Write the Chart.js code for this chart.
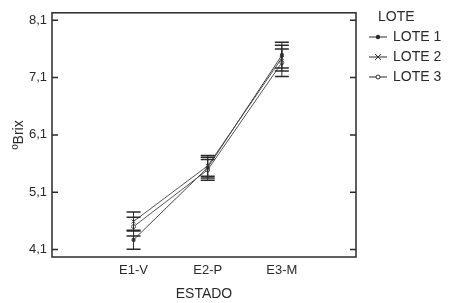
<!DOCTYPE html>
<html>
<head>
<meta charset="utf-8">
<script src="https://cdn.jsdelivr.net/npm/chart.js@4.4.1/dist/chart.umd.min.js"></script>
<style>
html, body { margin: 0; padding: 0; background: #fff; }
#wrap { width: 449px; height: 303px; }
</style>
</head>
<body>
<div id="wrap"><canvas id="grafico"></canvas></div>
<script>
// datos
var estados = ["E1-V", "E2-P", "E3-M"];
var yTicks = [4.1, 5.1, 6.1, 7.1, 8.1];
var lotes = ["LOTE 1", "LOTE 2", "LOTE 3"];
var lote1 = [4.27, 5.53, 7.49];
var lote2 = [4.59, 5.56, 7.44];
var lote3 = [4.50, 5.49, 7.36];
var lote1Err = [0.165, 0.18, 0.225];
var lote2Err = [0.165, 0.18, 0.225];
var lote3Err = [0.165, 0.18, 0.24];

var tinta = "#2a2a2a";
var fuente = "'Liberation Sans', Arial, sans-serif";

function puntos(valores){
    var arr = [];
    for (var i = 0; i < valores.length; i++){
        arr.push({x: i, y: valores[i]});
    }
    return arr;
}

// barras de error, marco y leyenda
var extras = {
    id: "extras",
    afterDatasetsDraw: function(chart){
        var ctx = chart.ctx;
        var xs = chart.scales.x, ys = chart.scales.y;
        var a = chart.chartArea;
        ctx.save();
        ctx.strokeStyle = tinta;
        chart.data.datasets.forEach(function(ds){
            for (var i = 0; i < ds.data.length; i++){
                var px = xs.getPixelForValue(ds.data[i].x);
                var arriba = ys.getPixelForValue(ds.data[i].y + ds.err[i]);
                var abajo = ys.getPixelForValue(ds.data[i].y - ds.err[i]);
                ctx.lineWidth = 1;
                ctx.beginPath();
                ctx.moveTo(px, arriba); ctx.lineTo(px, abajo);
                ctx.stroke();
                ctx.lineWidth = 1.5;
                ctx.beginPath();
                ctx.moveTo(px - 7, arriba); ctx.lineTo(px + 7, arriba);
                ctx.moveTo(px - 7, abajo); ctx.lineTo(px + 7, abajo);
                ctx.stroke();
            }
        });
        // marco
        ctx.lineWidth = 1.5;
        ctx.strokeRect(a.left, a.top, a.right - a.left, a.bottom - a.top);
        ctx.beginPath();
        yTicks.forEach(function(t){
            var py = ys.getPixelForValue(t);
            ctx.moveTo(a.left, py); ctx.lineTo(a.left + 6, py);
            ctx.moveTo(a.right, py); ctx.lineTo(a.right - 6, py);
        });
        ctx.stroke();
        // leyenda
        ctx.fillStyle = tinta;
        ctx.font = "14px " + fuente;
        ctx.textBaseline = "middle";
        ctx.textAlign = "left";
        ctx.fillText("LOTE", 378, 17);
        chart.data.datasets.forEach(function(ds, k){
            var ly = 37 + k * 20;
            ctx.lineWidth = 1;
            ctx.beginPath();
            ctx.moveTo(369, ly); ctx.lineTo(387, ly);
            ctx.stroke();
            dibujaMarca(ctx, ds.pointStyle, 378, ly);
            ctx.fillStyle = tinta;
            ctx.fillText(ds.label, 393, ly);
        });
        ctx.restore();
    }
};

function dibujaMarca(ctx, estilo, x, y){
    ctx.beginPath();
    if (estilo == "crossRot"){
        ctx.moveTo(x - 3, y - 3); ctx.lineTo(x + 3, y + 3);
        ctx.moveTo(x - 3, y + 3); ctx.lineTo(x + 3, y - 3);
        ctx.stroke();
    } else if (estilo == "circle"){
        ctx.arc(x, y, 2, 0, Math.PI * 2);
        ctx.fillStyle = "#fff";
        ctx.fill();
        ctx.stroke();
    } else {
        ctx.arc(x, y, 2.2, 0, Math.PI * 2);
        ctx.fillStyle = tinta;
        ctx.fill();
    }
}

var datos = {
    datasets: [{
        label: lotes[0],
        data: puntos(lote1),
        err: lote1Err,
        borderColor: "#444",
        backgroundColor: "#333",
        borderWidth: 1,
        pointStyle: "rect",
        pointRadius: 2,
        pointBorderWidth: 1
    }, {
        label: lotes[1],
        data: puntos(lote2),
        err: lote2Err,
        borderColor: "#555",
        backgroundColor: "#555",
        borderWidth: 1,
        pointStyle: "crossRot",
        pointRadius: 3,
        pointBorderWidth: 1
    }, {
        label: lotes[2],
        data: puntos(lote3),
        err: lote3Err,
        borderColor: "#555",
        backgroundColor: "#fff",
        borderWidth: 1,
        pointStyle: "circle",
        pointRadius: 2,
        pointBorderWidth: 1
    }]
};

var config = {
    type: "line",
    data: datos,
    options: {
        responsive: true,
        maintainAspectRatio: false,
        animation: false,
        layout: { padding: { left: 0, top: 12, right: 93, bottom: 0 } },
        plugins: {
            legend: { display: false },
            tooltip: { enabled: false }
        },
        scales: {
            x: {
                type: "linear",
                min: -1.1,
                max: 3.0,
                grid: { display: false, drawTicks: false },
                border: { display: false },
                afterBuildTicks: function(scale){
                    scale.ticks = estados.map(function(e, i){ return {value: i}; });
                },
                afterFit: function(scale){ scale.height = 46; },
                ticks: {
                    autoSkip: false,
                    maxRotation: 0,
                    padding: 6,
                    color: tinta,
                    font: { family: fuente, size: 13 },
                    callback: function(v){ return estados[v]; }
                },
                title: {
                    display: true,
                    text: "ESTADO",
                    color: tinta,
                    font: { family: fuente, size: 14 },
                    padding: { top: 0, bottom: 0 }
                }
            },
            y: {
                min: 3.97,
                max: 8.23,
                grid: { display: false, drawTicks: false },
                border: { display: false },
                afterBuildTicks: function(scale){
                    scale.ticks = yTicks.map(function(t){ return {value: t}; });
                },
                afterFit: function(scale){ scale.width = 52; },
                ticks: {
                    padding: 5,
                    color: tinta,
                    font: { family: fuente, size: 13 },
                    callback: function(v){ return v.toFixed(1).replace(".", ","); }
                },
                title: {
                    display: true,
                    text: "ºBrix",
                    color: tinta,
                    font: { family: fuente, size: 14 },
                    padding: { top: 11, bottom: 0 }
                }
            }
        }
    },
    plugins: [extras]
};

var miGrafico = new Chart(document.getElementById("grafico"), config);
</script>
</body>
</html>
